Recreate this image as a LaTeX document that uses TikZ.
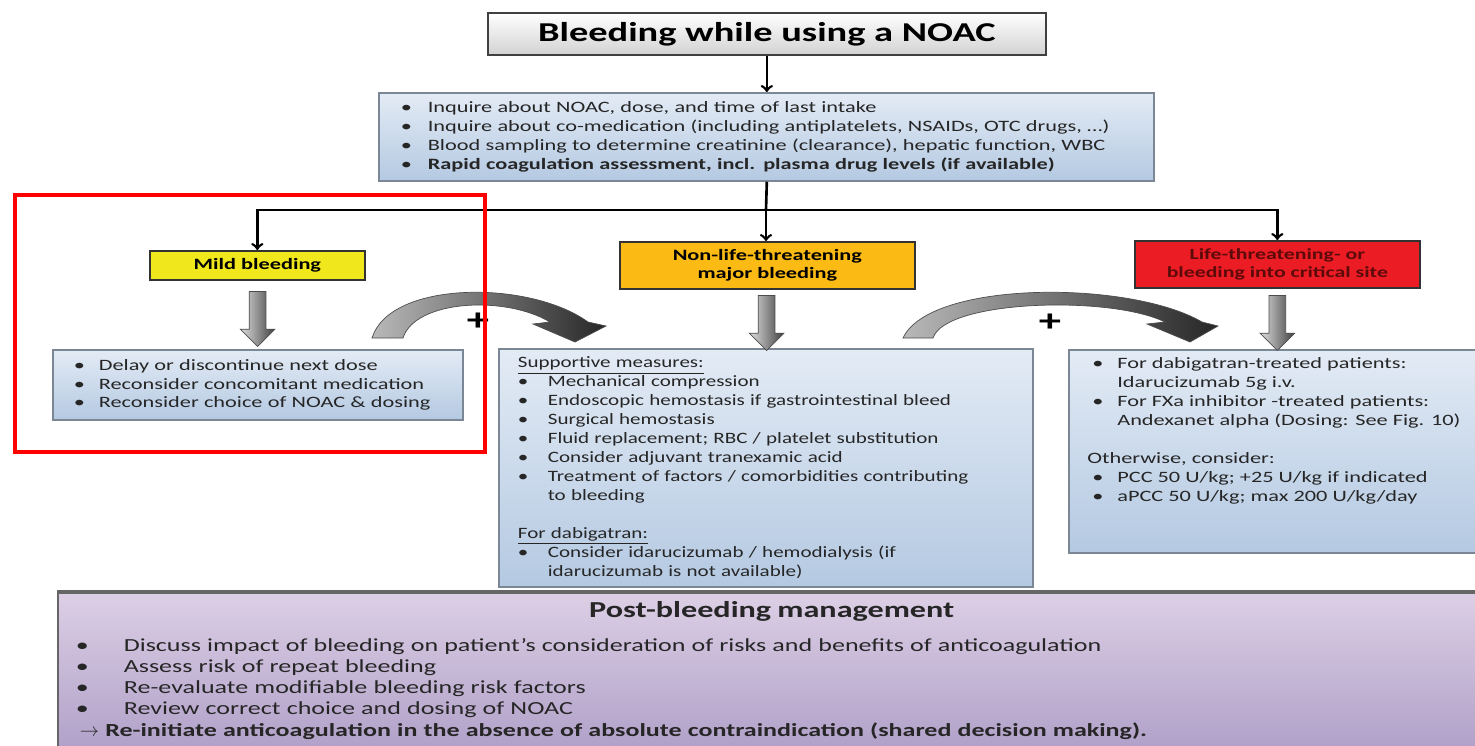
\documentclass[tikz,border=0pt]{standalone}
\usepackage{fontspec}
\setmainfont{Carlito}[FakeStretch=1.41]
\newfontfamily\majorfont{Carlito}[FakeStretch=1.33]
\usepackage{tikz}
\usetikzlibrary{shapes.arrows}

\definecolor{bluetop}{HTML}{E3EBF5}
\definecolor{bluebot}{HTML}{B4C9E2}
\definecolor{boxline}{HTML}{7B8794}
\definecolor{mildfill}{HTML}{F0E81C}
\definecolor{majorfill}{HTML}{FBBB14}
\definecolor{lifefill}{HTML}{EC1C24}
\definecolor{lifetext}{HTML}{5C0A0A}
\definecolor{purpletop}{HTML}{DCCFE5}
\definecolor{purplebot}{HTML}{B1A1C9}

\newcommand{\bul}[1][0.52cm]{\makebox[#1][l]{\textbullet}}

\begin{document}
\begin{tikzpicture}[x=0.02cm, y=-0.02cm,
  conn/.style={->, line width=1.5pt},
  infobox/.style={draw=boxline, line width=1pt, top color=bluetop, bottom color=bluebot, anchor=north west, align=left, font=\fontsize{9}{10.8}\selectfont, text=black!85},
  catbox/.style={draw=black!80, line width=1pt, anchor=north west, align=center, font=\fontsize{9}{10.6}\selectfont\bfseries},
  blockarrow/.style={single arrow, draw=black!70, thin, rotate=-90, minimum height=1.1cm, minimum width=0.68cm, single arrow head extend=0.18cm, inner sep=0.16cm, left color=gray!25, right color=black!75},
  bendarrow/.style={draw=black!70, thin, left color=gray!55, right color=black!85}
]
% Fixando o tamanho da figura:
\useasboundingbox (0,0) rectangle (1475,745);
\clip (0,0) rectangle (1475,745);
\fill[white] (0,0) rectangle (1475,745);

% Caixa do titulo:
\node[draw=black!75, line width=1pt, top color=white, bottom color=gray!35, anchor=north west, minimum width=11.16cm, minimum height=0.84cm, font=\fontsize{15.5}{18}\selectfont\bfseries] (title) at (487,12) {Bleeding while using a NOAC};

% Caixa com as primeiras medidas:
\node[infobox, minimum width=15.5cm, minimum height=1.76cm, text width=14.9cm, inner xsep=0.3cm] (info) at (378,92) {\hspace*{0.14cm}\bul[0.54cm]Inquire about NOAC, dose, and time of last intake\\
\hspace*{0.14cm}\bul[0.54cm]Inquire about co-medication (including antiplatelets, NSAIDs, OTC drugs, \ldots)\\
\hspace*{0.14cm}\bul[0.54cm]Blood sampling to determine creatinine (clearance), hepatic function, WBC\\
\hspace*{0.14cm}\bul[0.54cm]\textbf{Rapid coagulation assessment, incl. plasma drug levels (if available)}};

% As tres categorias de sangramento:
\node[catbox, fill=mildfill, minimum width=4.3cm, minimum height=0.58cm] (mild) at (149,250) {Mild bleeding};
\node[catbox, fill=majorfill, minimum width=5.9cm, minimum height=0.94cm] (major) at (619,241) {Non-life-threatening\\major bleeding};
\node[catbox, fill=lifefill, text=lifetext, minimum width=5.7cm, minimum height=0.94cm, font=\fontsize{8.8}{10}\selectfont\bfseries] (life) at (1134,240) {Life-threatening- or\\bleeding into critical site};

% Caixas com as condutas:
\node[infobox, minimum width=8.2cm, minimum height=1.4cm, text width=7.36cm, inner xsep=0.42cm] (mildact) at (52,349) {\bul[0.5cm]Delay or discontinue next dose\\
\bul[0.5cm]Reconsider concomitant medication\\
\bul[0.5cm]Reconsider choice of NOAC \& dosing};

\node[infobox, minimum width=10.68cm, minimum height=4.76cm, text width=9.92cm, inner xsep=0.38cm, font=\majorfont\fontsize{9}{10.8}\selectfont] (majoract) at (498,348) {\underline{Supportive measures:}\\
\bul[0.6cm]Mechanical compression\\
\bul[0.6cm]Endoscopic hemostasis if gastrointestinal bleed\\
\bul[0.6cm]Surgical hemostasis\\
\bul[0.6cm]Fluid replacement; RBC / platelet substitution\\
\bul[0.6cm]Consider adjuvant tranexamic acid\\
\bul[0.6cm]Treatment of factors / comorbidities contributing\\
\hspace*{0.6cm}to bleeding\\[10.8pt]
\underline{For dabigatran:}\\
\bul[0.6cm]Consider idarucizumab / hemodialysis (if\\
\hspace*{0.6cm}idarucizumab is not available)};

\node[infobox, minimum width=8.34cm, minimum height=4.06cm] (lifeact) at (1068,349) {};
\node[anchor=north west, align=left, inner xsep=0.38cm, inner ysep=0.16cm, font=\fontsize{9}{10.8}\selectfont, text=black!85] (lifetext) at (lifeact.north west) {\hspace*{0.1cm}\bul[0.5cm]For dabigatran-treated patients:\\
\hspace*{0.6cm}Idarucizumab 5g i.v.\\
\hspace*{0.1cm}\bul[0.5cm]For FXa inhibitor -treated patients:\\
\hspace*{0.6cm}Andexanet alpha (Dosing: See Fig. 10)\\[10.8pt]
Otherwise, consider:\\
\hspace*{0.1cm}\bul[0.5cm]PCC 50 U/kg; +25 U/kg if indicated\\
\hspace*{0.1cm}\bul[0.5cm]aPCC 50 U/kg; max 200 U/kg/day};

% Caixa final:
\node[draw=black!60, line width=1pt, top color=purpletop, bottom color=purplebot, anchor=north west, minimum width=28.56cm, minimum height=3.1cm, text width=27.84cm, inner xsep=0.36cm, align=left, font=\fontsize{10.5}{12.1}\selectfont, text=black!85] (post) at (57,592) {\makebox[27.84cm][c]{\fontsize{13}{15}\selectfont\bfseries Post-bleeding management}\\[7pt]
\bul[0.96cm]Discuss impact of bleeding on patient's consideration of risks and benefits of anticoagulation\\
\bul[0.96cm]Assess risk of repeat bleeding\\
\bul[0.96cm]Re-evaluate modifiable bleeding risk factors\\
\bul[0.96cm]Review correct choice and dosing of NOAC\\
\hspace*{0.08cm}\textbf{$\rightarrow$ Re-initiate anticoagulation in the absence of absolute contraindication (shared decision making).}};
\draw[line width=2pt, black!60] (post.north west) -- (post.north east);

% Setas entre as caixas:
\coordinate (split) at (766,210);
\draw[conn] (title.south) -- (title.south |- info.north);
\draw[line width=1.5pt] (title.south |- info.south) -- (split);
\draw[conn] (split) -| (mild.north);
\draw[conn] (split) -- (split |- major.north);
\draw[conn] (split) -| (life.north);

% Setas grossas para baixo:
\path (mild.south) -- (mildact.north) node[midway, blockarrow] (mildarrow) {};
\path (major.south) -- (majoract.north) node[midway, blockarrow] (majorarrow) {};
\path (life.south) -- (lifeact.north -| life.south) node[midway, blockarrow] (lifearrow) {};

% Setas curvas com o sinal de mais:
\draw[bendarrow] (372,338) -- (403,338) .. controls (415,300) and (505,295) .. (550,322) -- (533,324) -- (575,342) -- (606,326) -- (588,322) .. controls (530,280) and (390,280) .. (372,338) -- cycle;
\draw[bendarrow] (903,338) -- (933,338) .. controls (945,300) and (1110,295) .. (1165,322) -- (1147,324) -- (1190,342) -- (1218,326) -- (1202,322) .. controls (1130,280) and (930,280) .. (903,338) -- cycle;
\node[font=\fontsize{18}{18}\selectfont\bfseries] (plusa) at (478,322) {+};
\node[font=\fontsize{18}{18}\selectfont\bfseries] (plusb) at (1050,323) {+};

% Destaque em vermelho:
\draw[red, line width=2.4pt] (15,195) rectangle (485,452);
\end{tikzpicture}
\end{document}
